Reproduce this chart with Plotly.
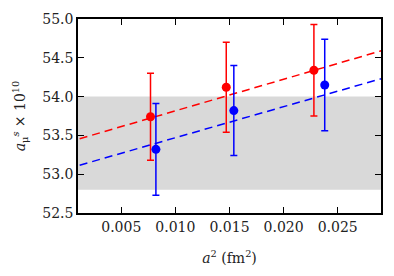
import plotly.graph_objects as go

# Data
red_x = [0.0077, 0.0147, 0.0228]
red_y = [53.74, 54.12, 54.34]
red_err = [0.56, 0.58, 0.59]

blue_x = [0.0082, 0.0154, 0.0238]
blue_y = [53.32, 53.82, 54.15]
blue_err = [0.59, 0.58, 0.59]

fit_x = [0.0, 0.03]
red_fit = [53.41, 54.63]
blue_fit = [53.07, 54.27]

band_low, band_high = 52.8, 54.0

x_ticks = [0.005, 0.010, 0.015, 0.020, 0.025]
x_tick_text = ["0.005", "0.010", "0.015", "0.020", "0.025"]
y_ticks = [52.5, 53.0, 53.5, 54.0, 54.5, 55.0]
y_tick_text = ["52.5", "53.0", "53.5", "54.0", "54.5", "55.0"]

FONT = "DejaVu Serif"

fig = go.Figure()

fig.add_shape(type="rect", xref="paper", yref="y", x0=0, x1=1,
              y0=band_low, y1=band_high, fillcolor="#d9d9d9",
              line=dict(width=0), layer="below")

fig.add_trace(go.Scatter(x=fit_x, y=red_fit, mode="lines",
                         line=dict(color="#ff0000", width=1.5, dash="8px,5px"),
                         showlegend=False, hoverinfo="skip"))
fig.add_trace(go.Scatter(x=fit_x, y=blue_fit, mode="lines",
                         line=dict(color="#0000ff", width=1.5, dash="8px,5px"),
                         showlegend=False, hoverinfo="skip"))

fig.add_trace(go.Scatter(x=red_x, y=red_y, mode="markers",
                         marker=dict(color="#ff0000", size=9),
                         error_y=dict(type="data", array=red_err, color="#ff0000",
                                      thickness=1.5, width=3.5),
                         showlegend=False))
fig.add_trace(go.Scatter(x=blue_x, y=blue_y, mode="markers",
                         marker=dict(color="#0000ff", size=9),
                         error_y=dict(type="data", array=blue_err, color="#0000ff",
                                      thickness=1.5, width=3.5),
                         showlegend=False))

axis_common = dict(showgrid=False, zeroline=False, showline=True,
                   linecolor="black", linewidth=1.5, mirror="ticks",
                   ticks="inside", ticklen=6, tickwidth=1, tickcolor="black",
                   tickfont=dict(family=FONT, size=14, color="#222"))

fig.update_xaxes(range=[0.001, 0.029], tickvals=x_ticks, ticktext=x_tick_text,
                 title=dict(text="<i>a</i><sup>2</sup> (fm<sup>2</sup>)",
                            font=dict(family=FONT, size=14, color="#222"),
                            standoff=20),
                 **axis_common)
fig.update_yaxes(range=[52.5, 55.0], tickvals=y_ticks, ticktext=y_tick_text,
                 title=dict(text="<i>a</i><sub>μ</sub><sup><i>s</i></sup> × 10<sup>10</sup>",
                            font=dict(family=FONT, size=14, color="#222"),
                            standoff=13),
                 **axis_common)

fig.update_layout(width=394, height=276,
                  margin=dict(l=78, r=11, t=19, b=63),
                  paper_bgcolor="white", plot_bgcolor="white")

fig.write_html("out.html",
               config={"displayModeBar": False},
               post_script="document.body.style.margin='0px';document.body.style.padding='0px';")
